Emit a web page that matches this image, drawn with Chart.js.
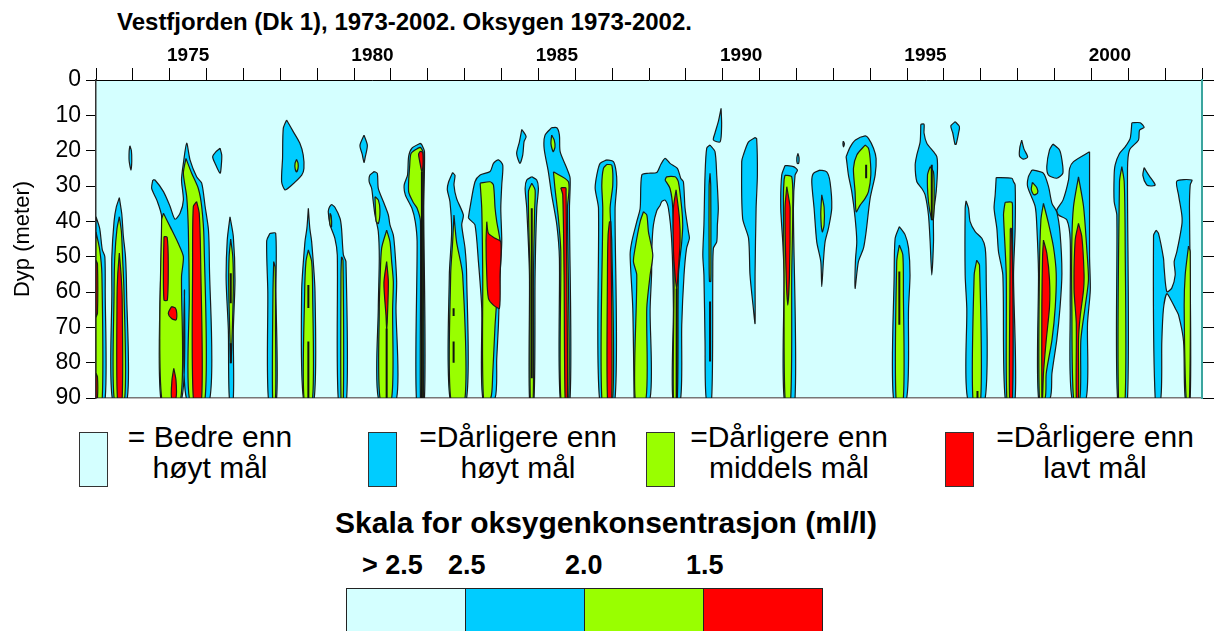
<!DOCTYPE html>
<html lang="no">
<head>
<meta charset="UTF-8" />
<title>Vestfjorden oksygen</title>
<script src="https://cdn.jsdelivr.net/npm/chart.js"></script>
<style>
  body { margin: 0; width: 1214px; height: 631px; background: #fff; position: relative; overflow: hidden;
         font-family: "Liberation Sans", Arial, sans-serif; color: #000; }
  #wrap { position: absolute; left: 0; top: 0; width: 1214px; height: 420px; }
  .t { position: absolute; white-space: nowrap; line-height: 1; }
  .box { position: absolute; top: 432px; width: 29px; height: 55px; border: 1.5px solid #333; box-sizing: border-box; }
  .lg { position: absolute; top: 421px; width: 320px; text-align: center; font-size: 30px; line-height: 31px; white-space: nowrap; }
  .bar { position: absolute; top: 588px; height: 60px; width: 120px; border: 1px solid #222; box-sizing: border-box; }
  .sl { position: absolute; top: 552px; font-size: 27px; font-weight: bold; line-height: 1; white-space: nowrap; }
</style>
</head>
<body>
<div class="t" style="left:117px; top:10px; font-size:24px; font-weight:bold;">Vestfjorden (Dk 1), 1973-2002. Oksygen 1973-2002.</div>
<div id="wrap"><canvas id="oxy" width="1214" height="420"></canvas></div>

<!-- legend -->
<div class="box" style="left:79px; background:#d4ffff;"></div>
<div class="lg" style="left:50px;">= Bedre enn<br>høyt mål</div>
<div class="box" style="left:368px; background:#00ccff;"></div>
<div class="lg" style="left:358px;">=Dårligere enn<br>høyt mål</div>
<div class="box" style="left:646px; background:#99ff00;"></div>
<div class="lg" style="left:629px;">=Dårligere enn<br>middels mål</div>
<div class="box" style="left:945px; background:#ff0000;"></div>
<div class="lg" style="left:935px;">=Dårligere enn<br>lavt mål</div>

<div class="t" style="left:0; width:1212px; text-align:center; top:508px; font-size:30px; font-weight:bold;">Skala for oksygenkonsentrasjon (ml/l)</div>
<div class="sl" style="left:362px;">&gt; 2.5</div>
<div class="sl" style="left:448px;">2.5</div>
<div class="sl" style="left:565px;">2.0</div>
<div class="sl" style="left:686px;">1.5</div>
<div class="bar" style="left:346px; background:#d4ffff;"></div>
<div class="bar" style="left:465px; background:#00ccff;"></div>
<div class="bar" style="left:584px; background:#99ff00;"></div>
<div class="bar" style="left:703px; background:#ff0000;"></div>

<script>
// x = year, y = depth (m); contour outlines
const yearLabels = [1975, 1980, 1985, 1990, 1995, 2000];
const depthTicks = [0, 10, 20, 30, 40, 50, 60, 70, 80, 90];

// oxygen below 2.5 ml/l
const blueAreas = [
  [[1973.0,38.7],[1973.1,42],[1973.17,48],[1973.24,50],[1973.25,60],[1973.25,90],[1973.0,90]],
  [[1973.633,33.3],[1973.70,38],[1973.74,44],[1973.80,50],[1973.83,60],[1973.85,90],[1973.44,90],[1973.43,60],[1973.43,50],[1973.49,40],[1973.55,36]],
  [[1973.92,18.6],[1973.96,20],[1973.97,23],[1973.95,25.5],[1973.90,23],[1973.90,20]],
  [[1974.54,28.3],[1974.6,28.3],[1974.83,31.6],[1975.01,35.8],[1975.143,39.4],[1975.28,37.7],[1975.37,34],[1975.32,28.3],[1975.37,23.6],[1975.46,17.9],[1975.55,22.6],[1975.73,27.4],[1975.867,29.2],[1975.96,35.8],[1976.05,42.4],[1976.075,51.9],[1976.09,90],[1975.45,90],[1975.40,59.4],[1975.33,90],[1974.755,90],[1974.78,38.7],[1974.65,34],[1974.51,30.7]],
  [[1976.365,19.3],[1976.41,21.2],[1976.40,24],[1976.365,26.4],[1976.23,23.6],[1976.165,21.7],[1976.255,20.3]],
  [[1976.635,38.7],[1976.725,44.3],[1976.77,56.6],[1976.725,70.8],[1976.725,90],[1976.617,90],[1976.59,70.8],[1976.53,56.6],[1976.56,45.3]],
  [[1977.72,43.4],[1977.874,43.4],[1977.88,60],[1977.90,90],[1977.675,90],[1977.66,60],[1977.63,45.5]],
  [[1978.17,11.3],[1978.35,14.6],[1978.53,17.9],[1978.62,21.2],[1978.64,25],[1978.58,26.9],[1978.26,30.2],[1978.126,31.1],[1978.035,28.8],[1978.06,22.2],[1978.08,13.7]],
  [[1980.27,15.6],[1980.36,18.5],[1980.30,22],[1980.27,23.3],[1980.22,21],[1980.16,18.5]],
  [[1978.76,36.3],[1978.80,42],[1978.85,45.8],[1978.94,59.9],[1978.92,90],[1978.623,90],[1978.578,59.9],[1978.668,45.8],[1978.72,42]],
  [[1979.39,35.2],[1979.48,36],[1979.62,39.2],[1979.66,42],[1979.71,49.5],[1979.78,51.4],[1979.80,90],[1979.57,90],[1979.545,49.5],[1979.48,44.8],[1979.35,41],[1979.30,37.3],[1979.33,36]],
  [[1980.55,25.9],[1980.63,26.4],[1980.657,30.7],[1980.793,34.4],[1980.93,38.2],[1980.974,41],[1981.065,43.9],[1981.11,48.6],[1981.155,57.1],[1981.137,64.6],[1981.155,90],[1980.657,90],[1980.657,64.6],[1980.684,50.5],[1980.657,42.9],[1980.567,38.2],[1980.52,34.4],[1980.477,30.7],[1980.41,28.8],[1980.43,26.9]],
  [[1981.80,17.9],[1981.84,18.4],[1981.91,20.3],[1981.89,36.3],[1981.91,90],[1981.69,90],[1981.71,45.8],[1981.66,40.1],[1981.57,36.3],[1981.39,32.5],[1981.36,29.7],[1981.45,26.9],[1981.48,21.7],[1981.57,19.3]],
  [[1982.674,26.2],[1982.738,27],[1982.71,29.7],[1982.78,33.5],[1982.964,38.2],[1982.92,41],[1983.01,47.6],[1983.054,55.2],[1983.054,90],[1982.60,90],[1982.584,55.2],[1982.647,43],[1982.60,34.4],[1982.53,31.1],[1982.56,29]],
  [[1983.10,39],[1983.147,36],[1983.28,28.8],[1983.42,26.9],[1983.69,25.9],[1983.78,23.6],[1983.916,22.6],[1984.033,24.1],[1984.006,29.7],[1983.98,36.3],[1984.006,45.8],[1983.96,55.2],[1983.916,69.3],[1983.87,78.8],[1983.825,90],[1983.49,90],[1983.463,64.6],[1983.373,51.4],[1983.28,41],[1983.147,39.6]],
  [[1984.55,14],[1984.666,16],[1984.61,17.5],[1984.576,21.2],[1984.50,23.6],[1984.41,20.8],[1984.485,17.5]],
  [[1984.82,27.4],[1984.955,28.3],[1985.0,30.7],[1984.955,36.3],[1984.91,55.2],[1984.883,90],[1984.757,90],[1984.757,55.2],[1984.684,36.3],[1984.64,30.7],[1984.684,28.3]],
  [[1985.36,13.5],[1985.5,13.5],[1985.57,15.6],[1985.59,20.3],[1985.77,25],[1985.86,27.8],[1985.842,36.3],[1985.86,90],[1985.59,90],[1985.57,50.5],[1985.5,41],[1985.36,32.5],[1985.27,26],[1985.155,19.3],[1985.18,15.6]],
  [[1986.855,22.6],[1987.035,23.1],[1987.108,25.9],[1987.126,29.7],[1987.08,36.3],[1987.08,90],[1986.656,90],[1986.63,36.3],[1986.54,30.7],[1986.584,26.9],[1986.674,23.6]],
  [[1987.596,90],[1987.56,64.6],[1987.488,49.5],[1987.533,45.8],[1987.668,40.1],[1987.76,36.3],[1987.804,26.9],[1987.985,26.4],[1988.21,26.2],[1988.32,23.9],[1988.437,22.2],[1988.57,23.6],[1988.77,25],[1988.86,27.8],[1988.933,28.8],[1988.978,36.3],[1989.069,42.9],[1989.096,44.8],[1989.02,47.6],[1988.95,55.2],[1988.888,69.3],[1988.86,90],[1988.644,90],[1988.662,64.6],[1988.617,45.8],[1988.526,36.3],[1988.436,34],[1988.345,34.4],[1988.30,35.5],[1988.21,37],[1988.12,41],[1988.08,47],[1988.07,55],[1988.03,65],[1988.03,90]],
  [[1989.656,18.4],[1989.79,20.3],[1989.837,26.9],[1989.88,36.3],[1989.855,41],[1989.837,45.8],[1989.747,47.6],[1989.73,55.2],[1989.70,90],[1989.55,90],[1989.52,74],[1989.49,55.2],[1989.46,49.5],[1989.49,41],[1989.52,26.9],[1989.566,19.3]],
  [[1989.955,8],[1989.97,12.7],[1989.93,17.5],[1989.747,17],[1989.79,15],[1989.88,11.8]],
  [[1990.877,16.3],[1990.92,16.6],[1990.94,26.9],[1990.905,36.3],[1990.877,55.2],[1990.877,68.9],[1990.83,64.6],[1990.74,55.2],[1990.70,44.8],[1990.54,39.2],[1990.515,23.1],[1990.56,21.2],[1990.70,17.5]],
  [[1991.69,24.2],[1991.917,24.5],[1992.026,25.5],[1991.962,26.9],[1991.917,36.3],[1991.962,90],[1991.664,90],[1991.664,55.2],[1991.628,45.8],[1991.574,36.3],[1991.60,26.9]],
  [[1992.04,20.8],[1992.07,22],[1992.06,23.6],[1992.02,23.6],[1992.01,22]],
  [[1992.64,25.5],[1992.82,26],[1992.91,28.8],[1992.957,36.3],[1992.867,42],[1992.776,45.8],[1992.73,51.4],[1992.686,58.5],[1992.66,51.4],[1992.55,45.8],[1992.478,36.3],[1992.415,28.8],[1992.46,26.4]],
  [[1993.27,17.3],[1993.30,18],[1993.28,18.9],[1993.26,18]],
  [[1993.346,21.7],[1993.456,19],[1993.60,17],[1993.863,15.8],[1993.953,16.5],[1994.09,19.3],[1994.16,22.2],[1994.134,26.9],[1993.998,33.5],[1993.89,42.9],[1993.818,47.6],[1993.68,51.4],[1993.59,59],[1993.60,51],[1993.636,45.8],[1993.59,39],[1993.50,31.6],[1993.41,26.9],[1993.364,23.1]],
  [[1994.79,41.5],[1994.95,43.9],[1995.04,47.6],[1995.08,55.2],[1995.04,64.6],[1994.99,90],[1994.63,90],[1994.65,55.2],[1994.677,44.8]],
  [[1995.373,12.5],[1995.46,12.5],[1995.46,15],[1995.536,17.9],[1995.717,20.3],[1995.807,21.7],[1995.826,25],[1995.79,31.6],[1995.717,38.2],[1995.717,45.8],[1995.67,55.2],[1995.626,45.8],[1995.58,38.2],[1995.49,32.5],[1995.40,30.7],[1995.265,28.8],[1995.22,24],[1995.265,21.2],[1995.355,17.5]],
  [[1996.305,11.8],[1996.42,13.2],[1996.395,15.1],[1996.33,18.2],[1996.30,18.2],[1996.24,15],[1996.187,13]],
  [[1996.60,34.2],[1996.667,36.3],[1996.71,40.1],[1996.847,42.9],[1997.028,44.8],[1997.12,47.6],[1997.146,55.2],[1997.12,90],[1996.64,90],[1996.62,64.6],[1996.576,55.2],[1996.576,36.3]],
  [[1997.417,27.6],[1997.842,27.8],[1997.888,28.8],[1997.932,29.7],[1997.932,42],[1997.888,55.2],[1997.932,90],[1997.66,90],[1997.598,55.2],[1997.48,48.6],[1997.435,42],[1997.36,36.3],[1997.39,32.5]],
  [[1998.11,17],[1998.17,19.5],[1998.27,21.8],[1998.15,22.4],[1998.05,21.5],[1998.06,19]],
  [[1998.385,25.5],[1998.43,25.5],[1998.70,26.4],[1998.837,30.2],[1998.93,34.9],[1999.06,37.3],[1999.15,43.4],[1999.2,54.7],[1999.15,64.2],[1999.06,73.6],[1998.93,83],[1998.88,90],[1998.565,90],[1998.565,54.7],[1998.52,41.5],[1998.475,35.8],[1998.27,30.2],[1998.29,27.4]],
  [[1998.955,18.1],[1999.135,19.8],[1999.2,22.6],[1999.225,26.4],[1999.06,27.8],[1998.837,26.9],[1998.79,24.5],[1998.864,19.8]],
  [[1999.95,20.3],[1999.95,35.8],[1999.95,50],[1999.97,59.4],[1999.895,68.9],[1999.86,90],[1999.47,90],[1999.425,64.2],[1999.425,45.3],[1999.335,39.6],[1999.11,38.2],[1999.06,36.8],[1999.23,34],[1999.38,28.3],[1999.41,25],[1999.515,23.1]],
  [[2001.097,12.1],[2001.323,12.1],[2001.43,13.4],[2001.305,14.2],[2001.278,17],[2001.034,19.8],[2000.98,25],[2000.98,90],[2000.708,90],[2000.69,38.2],[2000.617,34.4],[2000.617,26.9],[2000.645,24],[2000.762,20.8],[2000.916,18.9],[2001.052,16.5]],
  [[2001.43,24.8],[2001.56,27],[2001.73,29.7],[2001.61,30],[2001.50,29.7],[2001.395,27]],
  [[2001.757,42.5],[2001.82,43.4],[2001.956,50.5],[2001.974,53.3],[2002.046,59.9],[2002.18,58.9],[2002.273,55.2],[2002.245,51.4],[2002.318,48.6],[2002.453,41],[2002.453,38.2],[2002.363,32.5],[2002.318,28.6],[2002.725,28.3],[2002.68,29.7],[2002.66,36.3],[2002.68,55.2],[2002.68,90],[2002.544,90],[2002.50,74],[2002.363,66.5],[2002.273,64.6],[2002.18,62.7],[2002.046,60.5],[2001.956,64.6],[2001.91,74],[2001.884,90],[2001.73,90],[2001.685,44]]
];

// below 2.0 ml/l
const greenAreas = [
  [[1973.0,43],[1973.1,48],[1973.16,55],[1973.17,90],[1973.0,90]],
  [[1973.633,38.7],[1973.69,43],[1973.72,50],[1973.76,60],[1973.78,90],[1973.49,90],[1973.49,60],[1973.51,50],[1973.57,42]],
  [[1974.83,37.7],[1975.01,41.5],[1975.23,46.2],[1975.37,50],[1975.32,55.7],[1975.30,90],[1974.78,90],[1974.78,39.6]],
  [[1975.44,22.2],[1975.595,26.4],[1975.775,30.7],[1975.867,35.8],[1975.93,45.3],[1975.96,90],[1975.53,90],[1975.53,61.3],[1975.505,42.4],[1975.46,33],[1975.37,26.4]],
  [[1976.653,45],[1976.71,50],[1976.725,58],[1976.70,70],[1976.66,80],[1976.63,72],[1976.60,58],[1976.61,50]],
  [[1977.82,51.4],[1977.86,53],[1977.87,70],[1977.87,90],[1977.79,90],[1977.80,60]],
  [[1978.44,22.5],[1978.48,23.5],[1978.48,25],[1978.44,26],[1978.40,25],[1978.40,23.5]],
  [[1978.76,48.1],[1978.85,51.4],[1978.876,60],[1978.876,90],[1978.64,90],[1978.66,60],[1978.695,51.4]],
  [[1979.35,37.7],[1979.38,38.5],[1979.39,41.5],[1979.36,41.5],[1979.34,40]],
  [[1979.66,50],[1979.70,51],[1979.71,90],[1979.645,90],[1979.645,55]],
  [[1980.567,33],[1980.66,34],[1980.703,37],[1980.66,40.6],[1980.60,40]],
  [[1980.884,42.5],[1980.974,45.8],[1981.02,51.4],[1981.065,57.1],[1981.046,64.6],[1981.02,90],[1980.703,90],[1980.684,64.6],[1980.703,57.1],[1980.748,47.6]],
  [[1981.80,19],[1981.87,20.3],[1981.88,40],[1981.88,90],[1981.80,90],[1981.80,40],[1981.71,36.3],[1981.62,34.9],[1981.48,31.6],[1981.51,24.1],[1981.545,20.8],[1981.70,19.5]],
  [[1982.71,38.2],[1982.78,45.8],[1982.946,55.2],[1983.01,90],[1982.62,90],[1982.62,55.2],[1982.674,45.8]],
  [[1983.42,29.2],[1983.69,28.8],[1983.78,29.7],[1983.825,36.3],[1983.87,40.1],[1983.96,45.8],[1983.916,55.2],[1983.825,69.3],[1983.76,83.5],[1983.708,90],[1983.51,90],[1983.49,55.2],[1983.463,36.3]],
  [[1984.82,29.2],[1984.91,31.1],[1984.90,36.3],[1984.865,55.2],[1984.86,90],[1984.78,90],[1984.77,55.2],[1984.73,31.6]],
  [[1985.36,15.6],[1985.43,17],[1985.45,19],[1985.40,20.3],[1985.34,18]],
  [[1985.408,26],[1985.815,28.8],[1985.788,36.3],[1985.824,90],[1985.607,90],[1985.607,48.6],[1985.543,39.2],[1985.45,30.7]],
  [[1986.855,23.9],[1986.99,24.1],[1987.017,29.7],[1986.945,36.3],[1986.99,45.8],[1987.017,90],[1986.72,90],[1986.746,36.3],[1986.72,29.7],[1986.764,25]],
  [[1987.85,37.3],[1987.94,38.2],[1987.985,43],[1988.103,49.5],[1988.03,55.2],[1987.94,64.6],[1987.922,90],[1987.623,90],[1987.668,55.2],[1987.578,51.4],[1987.623,47.6],[1987.76,40.1]],
  [[1988.436,28.3],[1988.48,27.4],[1988.707,27.4],[1988.797,28.8],[1988.888,36.3],[1988.915,41],[1988.888,45.8],[1988.797,55.2],[1988.77,90],[1988.662,90],[1988.68,55.2],[1988.644,36.3],[1988.57,30.7]],
  [[1989.656,26.4],[1989.675,30],[1989.68,50],[1989.675,57],[1989.64,57],[1989.63,50],[1989.63,30]],
  [[1991.69,26.9],[1991.872,27.4],[1991.90,36.3],[1991.872,55.2],[1991.845,90],[1991.69,90],[1991.664,55.2],[1991.646,33],[1991.664,28.3]],
  [[1992.686,32.5],[1992.75,36],[1992.75,41],[1992.70,43],[1992.66,38]],
  [[1993.863,18.4],[1993.953,19.3],[1993.998,22.2],[1994.017,26.9],[1993.953,31.6],[1993.863,33.5],[1993.727,35.4],[1993.62,37.3],[1993.59,31.6],[1993.546,25],[1993.637,21.2]],
  [[1994.79,46.7],[1994.885,49.5],[1994.90,60],[1994.90,90],[1994.70,90],[1994.72,51.4]],
  [[1995.626,24.5],[1995.717,26],[1995.735,31.6],[1995.717,39.2],[1995.67,39.6],[1995.58,34.4],[1995.554,26.9]],
  [[1996.89,51],[1996.965,52.4],[1997.0,90],[1996.784,90],[1996.82,55.2]],
  [[1997.66,34.6],[1997.842,34.6],[1997.86,36.3],[1997.85,90],[1997.706,90],[1997.69,55.2],[1997.616,38.2],[1997.634,36.3]],
  [[1998.40,29],[1998.52,30.5],[1998.54,32],[1998.44,32.5],[1998.37,31]],
  [[1998.70,34.9],[1998.837,40.6],[1998.97,47.2],[1999.045,54.7],[1999.02,64.2],[1998.93,73.6],[1998.775,83],[1998.747,90],[1998.59,90],[1998.59,54.7],[1998.63,39.6]],
  [[1999.65,27.4],[1999.787,35.8],[1999.877,48.1],[1999.92,56.6],[1999.83,64.2],[1999.714,73.6],[1999.69,90],[1999.515,90],[1999.47,64.2],[1999.47,45.3],[1999.515,35.8]],
  [[2000.826,24.5],[2000.89,28.8],[2000.916,45.8],[2000.916,90],[2000.735,90],[2000.762,28.8]],
  [[2002.634,47],[2002.68,48.6],[2002.66,90],[2002.57,90],[2002.517,64.6],[2002.544,55.2]]
];

// below 1.5 ml/l
const redAreas = [
  [[1973.0,51],[1973.04,52],[1973.04,66],[1973.0,67]],
  [[1973.0,83],[1973.04,84],[1973.04,90],[1973.0,90]],
  [[1973.633,49],[1973.68,55],[1973.71,62],[1973.71,90],[1973.58,90],[1973.57,62],[1973.59,55]],
  [[1974.845,44.3],[1974.93,44.5],[1974.96,51.9],[1974.935,62.3],[1974.845,62.3],[1974.83,52]],
  [[1975.05,64.1],[1975.15,64.5],[1975.19,66],[1975.17,67.9],[1975.05,67.5],[1974.96,66]],
  [[1975.11,81.6],[1975.17,85],[1975.17,90],[1975.05,90],[1975.06,85]],
  [[1975.73,34.4],[1975.80,37.7],[1975.84,51.9],[1975.867,90],[1975.64,90],[1975.62,51.9],[1975.64,35.8]],
  [[1980.884,51.4],[1980.93,57.1],[1980.90,68.4],[1980.884,70.3],[1980.865,66.5],[1980.81,57.5]],
  [[1981.80,20.1],[1981.86,20.5],[1981.87,24],[1981.84,26],[1981.78,23],[1981.75,21]],
  [[1983.6,40.1],[1983.644,43.4],[1983.825,44.8],[1983.98,45.8],[1983.96,55.2],[1983.943,64.6],[1983.78,63.7],[1983.644,61.8],[1983.6,55.2],[1983.58,45.8]],
  [[1985.607,30.5],[1985.742,30.5],[1985.75,31.5],[1985.77,55.2],[1985.788,90],[1985.724,90],[1985.697,55.2],[1985.66,32.5]],
  [[1986.927,40.1],[1986.963,40.1],[1986.99,90],[1986.873,90],[1986.873,55],[1986.89,44]],
  [[1988.734,31.1],[1988.824,39],[1988.843,45.8],[1988.78,56],[1988.752,59],[1988.707,55.2],[1988.662,48],[1988.662,36.3]],
  [[1991.737,30.2],[1991.80,34],[1991.827,36.3],[1991.81,55.2],[1991.764,63.7],[1991.72,55.2],[1991.69,36.3]],
  [[1997.80,42],[1997.83,42],[1997.87,60],[1997.86,90],[1997.78,90],[1997.79,60]],
  [[1998.70,45.3],[1998.79,49],[1998.864,56.6],[1998.864,64.2],[1998.775,73.6],[1998.70,83],[1998.675,90],[1998.656,90],[1998.656,64.2],[1998.675,50]],
  [[1999.65,40.6],[1999.74,44.3],[1999.80,54.7],[1999.787,59.4],[1999.695,67],[1999.65,73.6],[1999.65,90],[1999.59,90],[1999.59,68.9],[1999.53,59.4],[1999.56,45.3]]
];

// collapsed 1.5 contours showing as black strokes: [year, top depth, bottom depth]
const blackMarks = [
  [1976.655,54.7,63.2],[1976.655,74.5,80.2],[1978.76,58,64.5],[1978.76,74,90],[1980.884,70.3,90],
  [1981.84,26,90],[1982.70,64.6,66.8],[1982.70,74,80],[1984.82,36.3,84.4],[1988.75,59,90],
  [1989.656,62.7,79.7],[1993.89,24,27.8],[1994.79,54.2,69.3],[1995.67,24,39.6],[1996.91,88,90]
];

const colors = { blue: '#00ccff', green: '#99ff00', red: '#ff0000', bg: '#d4ffff' };

function area(pts, color, order) {
  const data = pts.map(p => ({ x: p[0], y: p[1] }));
  data.push({ x: pts[0][0], y: pts[0][1] });
  return {
    data, order, xAxisID: 'x', yAxisID: 'y',
    backgroundColor: color, borderColor: '#1a1a1a', borderWidth: 1.2,
    fill: 'shape', pointRadius: 0, tension: 0.25
  };
}

const datasets = [
  ...blueAreas.map(p => area(p, colors.blue, 3)),
  ...greenAreas.map(p => area(p, colors.green, 2)),
  ...redAreas.map(p => area(p, colors.red, 1)),
  ...blackMarks.map(m => ({
    data: [{ x: m[0], y: m[1] }, { x: m[0], y: m[2] }], order: 0, xAxisID: 'x', yAxisID: 'y',
    borderColor: '#111', borderWidth: 2, fill: false, pointRadius: 0
  }))
];

const plotBg = {
  id: 'plotBg',
  beforeDraw(chart) {
    const { ctx, chartArea: a } = chart;
    ctx.save();
    ctx.fillStyle = colors.bg;
    ctx.fillRect(a.left, a.top, a.right - a.left, a.bottom - a.top);
    ctx.restore();
  }
};

const font = '"Liberation Sans", Arial, sans-serif';

new Chart(document.getElementById('oxy'), {
  type: 'line',
  data: { datasets },
  plugins: [plotBg],
  options: {
    responsive: false,
    animation: false,
    layout: { padding: 0 },
    plugins: { legend: { display: false }, tooltip: { enabled: false } },
    scales: {
      x: {
        type: 'linear', position: 'top', min: 1973, max: 2003,
        afterBuildTicks: s => {
          const t = [];
          for (let v = 1973; v <= 2003; v += 0.5) t.push({ value: v });
          s.ticks = t;
        },
        afterFit: s => { s.height = 80; },
        ticks: {
          autoSkip: false, maxRotation: 0, padding: 1, color: '#000',
          font: { family: font, size: 19, weight: 'bold' },
          callback: v => yearLabels.includes(v - 0.5) ? String(v - 0.5) : ''
        },
        grid: {
          drawOnChartArea: false, tickLength: 12, tickWidth: 1,
          tickColor: c => Number.isInteger(c.tick.value) ? '#000' : 'rgba(0,0,0,0)'
        },
        border: { color: '#000', width: 1 }
      },
      xb: {
        type: 'linear', position: 'bottom', min: 1973, max: 2003,
        afterFit: s => { s.height = 22; },
        ticks: { display: false },
        grid: { drawOnChartArea: false, drawTicks: false },
        border: { color: '#777', width: 1.5 }
      },
      y: {
        type: 'linear', position: 'left', min: 0, max: 90, reverse: true,
        afterBuildTicks: s => { s.ticks = depthTicks.map(v => ({ value: v })); },
        afterFit: s => { s.width = 96; },
        ticks: { color: '#000', padding: 5, font: { family: font, size: 23 } },
        grid: { drawOnChartArea: false, tickLength: 10, tickColor: '#000' },
        border: { color: '#333', width: 1.5 },
        title: { display: true, text: 'Dyp (meter)', color: '#000', padding: { top: 10, bottom: 0 }, font: { family: font, size: 22 } }
      },
      y2: {
        type: 'linear', position: 'right', min: 0, max: 90, reverse: true,
        afterBuildTicks: s => { s.ticks = depthTicks.map(v => ({ value: v })); },
        afterFit: s => { s.width = 12; },
        ticks: { display: false },
        grid: { drawOnChartArea: false, tickLength: 12, tickColor: '#000' },
        border: { color: '#3aa59e', width: 2 }
      }
    }
  }
});
</script>
</body>
</html>
